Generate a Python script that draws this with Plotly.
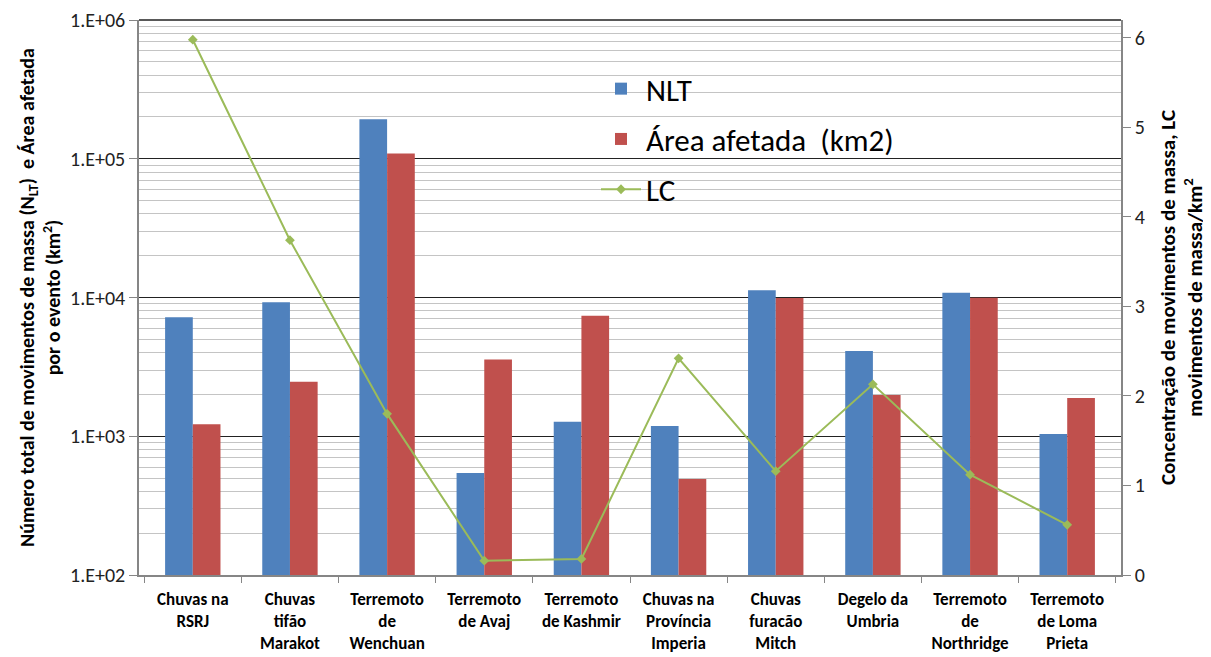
import plotly.graph_objects as go

categories = [
    "Chuvas na<br>RSRJ",
    "Chuvas<br>tifão<br>Marakot",
    "Terremoto<br>de<br>Wenchuan",
    "Terremoto<br>de Avaj",
    "Terremoto<br>de Kashmir",
    "Chuvas na<br>Província<br>Imperia",
    "Chuvas<br>furacão<br>Mitch",
    "Degelo da<br>Umbria",
    "Terremoto<br>de<br>Northridge",
    "Terremoto<br>de Loma<br>Prieta",
]
nlt = [7200, 9230, 193000, 543, 1274, 1185, 11300, 4110, 10800, 1040]
area = [1220, 2470, 109000, 3580, 7390, 492, 9900, 1980, 9950, 1890]
lc = [5.98, 3.74, 1.80, 0.16, 0.18, 2.42, 1.16, 2.13, 1.12, 0.56]

left_tickvals = [1e2, 1e3, 1e4, 1e5, 1e6]
left_ticktext = ["1.E+02", "1.E+03", "1.E+04", "1.E+05", "1.E+06"]
right_tickvals = [0, 1, 2, 3, 4, 5, 6]

FONT = "Carlito, Lato, 'Liberation Sans', sans-serif"

# page body has an 8px margin; figure sized so it ends at the window edge
W, H = 1203, 649
L, T, R, B = 131, 12, 90, 82
OFF = 8
plot_w = W - L - R
plot_h = H - T - B


def px_x(x):
    return (x - OFF - L) / plot_w


def px_y(y):
    return 1 - (y - OFF - T) / plot_h


fig = go.Figure()
fig.add_trace(go.Bar(x=categories, y=nlt, name="NLT", marker=dict(color="#4F81BD", line=dict(width=0)),
                     legendgroup="a"))
fig.add_trace(go.Bar(x=categories, y=area, name="Área afetada&nbsp;&nbsp;(km2)",
                     marker=dict(color="#C0504D", line=dict(width=0)), legendgroup="b"))
fig.add_trace(go.Scatter(x=categories, y=lc, name="LC", yaxis="y2", mode="lines+markers",
                         line=dict(color="#9BBB59", width=2),
                         marker=dict(symbol="diamond", size=7.5, color="#9BBB59"),
                         legendgroup="c"))

fig.update_layout(
    width=W, height=H,
    margin=dict(l=L, r=R, t=T, b=B),
    paper_bgcolor="white", plot_bgcolor="white",
    font=dict(family=FONT, color="black"),
    barmode="group", bargap=0.43, bargroupgap=0,
    showlegend=True,
    legend=dict(x=px_x(596), y=px_y(62), xanchor="left", yanchor="top",
                bgcolor="rgba(255,255,255,0)", font=dict(size=31, family=FONT),
                tracegroupgap=7, itemwidth=40),
    xaxis=dict(type="category", showline=True, linecolor="#868686", linewidth=1.5,
               ticks="outside", tickson="boundaries", ticklen=6, tickcolor="#868686",
               ticklabelstandoff=8,
               tickfont=dict(size=17, family=FONT, color="black", weight="bold"),
               showgrid=False, mirror=False, automargin=False),
    yaxis=dict(type="log", range=[2, 6], tickvals=left_tickvals, ticktext=left_ticktext,
               ticks="outside", ticklen=8, tickcolor="#868686",
               showline=True, linecolor="#868686", linewidth=1.5,
               showgrid=True, gridcolor="#222222", gridwidth=1,
               minor=dict(showgrid=True, gridcolor="#C4C4C4", gridwidth=1.3, dtick="D1", ticks=""),
               tickfont=dict(size=20, family=FONT, color="#222222"),
               title=dict(text="<b>Número total de movimentos de massa (N<sub>LT</sub>)  e Área afetada<br>por o evento (km<sup>2</sup>)</b>",
                          font=dict(size=20, family=FONT), standoff=4),
               zeroline=False, automargin=False),
    yaxis2=dict(overlaying="y", side="right", range=[0, 6.2], tickvals=right_tickvals,
                ticks="outside", ticklen=8, tickcolor="#868686",
                showline=True, linecolor="#868686", linewidth=1.5,
                showgrid=False, zeroline=False, automargin=False,
                tickfont=dict(size=20, family=FONT, color="#222222"),
                title=dict(text="<b>Concentração de movimentos de massa, LC<br>movimentos de massa/km<sup>2</sup></b>",
                           font=dict(size=21, family=FONT), standoff=16)),
    shapes=[
        dict(type="rect", xref="paper", yref="paper", x0=px_x(577), x1=px_x(926),
             y0=px_y(212), y1=px_y(63), fillcolor="white", line=dict(width=0),
             layer="between"),
        dict(type="line", xref="paper", yref="paper", x0=0, x1=1, y0=1, y1=1,
             line=dict(color="#222222", width=1.5)),
    ],
)

fig.write_html("out.html")
